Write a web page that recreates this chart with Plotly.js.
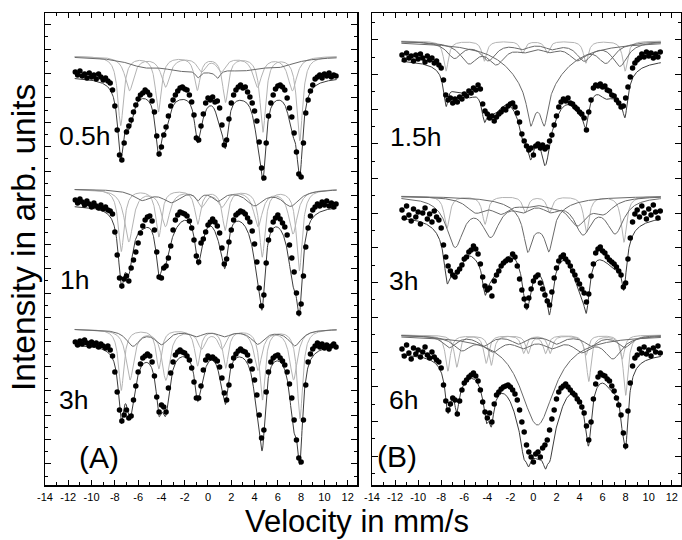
<!DOCTYPE html>
<html><head><meta charset="utf-8">
<script src="https://cdn.plot.ly/plotly-3.0.1.min.js"></script>
<style>html,body{margin:0;padding:0;background:#fff}#chart{width:682px;height:540px}</style>
</head><body><div id="chart"></div>
<script>
// ---- measured channels (mm/s) ----
const velocity = [
-11.4,-11.2,-11.0,-10.8,-10.6,-10.4,-10.2,-10.0,-9.8,-9.6,-9.4,-9.2,-9.0,-8.8,-8.6,
-8.4,-8.2,-8.0,-7.8,-7.6,-7.4,-7.2,-7.0,-6.8,-6.6,-6.4,-6.2,-6.0,-5.8,-5.6,
-5.4,-5.2,-5.0,-4.8,-4.6,-4.4,-4.2,-4.0,-3.8,-3.6,-3.4,-3.2,-3.0,-2.8,-2.6,
-2.4,-2.2,-2.0,-1.8,-1.6,-1.4,-1.2,-1.0,-0.8,-0.6,-0.4,-0.2,0.0,0.2,0.4,
0.6,0.8,1.0,1.2,1.4,1.6,1.8,2.0,2.2,2.4,2.6,2.8,3.0,3.2,3.4,
3.6,3.8,4.0,4.2,4.4,4.6,4.8,5.0,5.2,5.4,5.6,5.8,6.0,6.2,6.4,
6.6,6.8,7.0,7.2,7.4,7.6,7.8,8.0,8.2,8.4,8.6,8.8,9.0,9.2,9.4,
9.6,9.8,10.0,10.2,10.4,10.6,10.8,11.0];

// ---- relative transmission (%) ----
const A_05h = [
100.4,100.1,100.5,100.0,100.2,99.8,100.3,99.9,100.1,99.7,100.2,99.9,99.6,99.8,99.5,
99.3,98.6,97.0,94.6,92.1,91.6,93.3,94.4,95.0,95.6,96.4,97.1,97.7,98.1,98.3,
98.6,98.4,98.1,97.5,96.4,94.0,92.2,92.9,94.1,94.9,96.0,97.0,97.6,98.1,98.5,
98.8,98.9,98.7,98.6,98.1,97.4,96.1,93.8,93.6,95.0,96.2,97.3,97.8,97.6,97.9,
97.4,97.5,96.8,95.1,93.1,93.6,95.7,97.3,98.1,98.6,98.9,99.1,98.8,98.9,98.4,
97.9,97.3,96.5,95.5,93.4,90.8,89.8,93.3,96.0,97.3,98.1,98.7,99.0,99.1,98.9,
98.6,97.8,96.8,95.9,94.3,92.4,90.2,89.9,93.3,96.3,97.6,98.5,99.1,99.7,99.9,
100.1,99.8,100.2,100.0,100.3,99.9,100.1,100.0];
const A_1h = [
100.5,100.2,100.6,100.3,100.0,100.4,100.1,99.8,100.2,99.9,99.7,100.0,99.6,99.8,99.5,
99.4,99.1,97.3,95.0,92.7,91.9,92.6,92.9,92.4,93.7,94.5,95.3,96.2,97.2,97.9,
98.5,98.8,98.9,98.4,97.5,95.3,92.8,92.7,93.7,93.9,94.7,95.9,97.5,98.5,99.0,
99.3,99.2,99.1,98.9,98.4,97.7,96.5,94.9,94.3,96.2,96.6,97.3,98.0,98.3,98.6,
98.3,97.9,97.2,95.7,94.1,94.6,96.3,97.5,98.5,99.0,99.2,99.4,99.3,99.1,98.7,
98.3,97.4,96.1,94.3,91.7,89.9,91.0,94.2,96.5,97.5,98.3,98.7,99.0,98.6,98.2,
97.8,97.0,96.0,94.7,93.3,91.2,89.2,90.1,92.9,95.8,97.7,98.9,99.5,99.8,100.1,
99.9,100.3,100.0,100.4,99.9,100.2,99.8,100.1];
const A_3h = [
100.2,99.9,100.3,100.0,100.4,100.1,99.8,100.2,99.9,100.1,99.7,100.0,99.8,99.6,99.8,
99.4,98.8,97.2,95.2,93.4,92.3,92.9,93.4,92.6,92.8,94.4,95.8,97.2,98.0,98.6,
98.8,99.0,98.8,98.2,96.8,94.7,93.2,93.9,93.7,93.2,95.6,97.1,98.2,98.9,99.2,
99.4,99.2,99.1,98.8,98.4,97.6,96.2,94.6,94.6,95.8,97.4,98.4,98.8,98.6,98.7,
98.5,98.3,97.7,96.6,95.1,94.4,95.9,97.8,98.6,99.0,99.3,99.5,99.3,99.2,98.9,
98.3,97.5,96.4,94.9,92.9,90.6,91.4,95.2,97.2,98.2,98.6,98.8,98.9,98.6,98.3,
97.9,97.2,96.0,94.6,92.4,90.4,88.6,88.2,92.4,95.9,98.2,99.0,99.5,99.8,100.1,
99.7,100.0,99.6,99.9,99.5,99.8,100.0,99.7];
const B_15h = [
100.2,99.7,100.4,99.9,100.1,99.6,100.2,99.8,100.3,99.9,99.5,100.1,99.7,99.9,99.4,
99.6,99.2,98.9,97.7,96.2,95.7,95.9,95.4,95.8,95.5,96.0,95.8,96.3,96.1,96.6,
96.4,96.9,96.7,97.2,96.8,95.3,94.6,94.3,93.9,94.1,93.6,94.0,94.3,94.5,94.8,
94.7,95.1,95.3,95.4,95.0,94.4,93.5,92.3,91.6,91.1,90.7,90.9,90.2,91.1,91.3,
90.9,91.2,90.8,91.0,91.6,92.2,93.2,94.1,95.0,95.5,95.8,95.6,95.9,95.4,95.3,
95.0,94.8,94.5,94.3,93.9,92.7,94.5,95.7,96.9,97.2,97.1,97.3,97.0,97.1,96.7,
96.6,96.2,96.1,95.7,95.4,95.0,95.1,95.9,97.0,98.0,98.9,99.4,99.7,99.9,100.3,
100.0,100.5,100.1,100.4,99.9,100.3,100.0,100.5];
const B_3h = [
100.4,99.6,100.8,99.9,99.3,100.5,99.7,100.2,99.0,100.1,100.6,99.5,100.0,99.2,100.3,
99.7,99.4,98.6,96.9,95.7,94.8,94.3,93.9,93.7,94.2,94.5,94.9,95.5,95.7,96.2,
96.4,96.8,96.5,96.0,95.0,93.7,92.8,92.4,92.6,91.8,93.3,93.9,94.3,94.8,95.1,
95.3,95.5,95.4,96.0,95.7,94.8,93.5,92.4,91.5,90.8,91.6,92.5,93.3,93.7,93.9,
93.1,92.5,91.9,91.3,90.9,92.2,93.6,94.6,95.3,95.7,95.9,95.5,95.2,94.8,94.3,
93.9,93.4,93.0,92.5,92.1,91.2,92.0,93.8,95.0,96.1,96.5,96.7,96.3,96.1,95.7,
95.4,95.2,95.0,94.7,94.3,93.9,92.7,93.1,95.5,97.6,99.2,100.0,100.4,99.7,100.8,
100.1,99.5,100.5,99.9,100.9,100.2,99.6,100.3];
const B_6h = [
100.2,99.5,100.6,99.8,99.2,100.3,99.7,100.1,99.4,99.9,100.4,99.6,99.3,99.9,99.4,
99.1,98.9,98.3,96.6,95.0,94.1,94.7,95.3,95.1,93.7,95.0,96.1,96.8,97.1,97.4,
97.6,97.8,97.5,97.0,96.1,94.9,93.9,93.3,93.8,92.9,94.7,95.6,95.9,96.2,96.4,
96.5,96.6,96.4,96.1,95.7,95.1,94.1,92.9,91.9,90.6,89.9,89.4,88.9,89.7,89.9,
89.4,90.3,90.6,91.1,92.1,93.2,94.1,95.2,95.9,96.3,96.5,96.7,96.4,96.1,95.8,
95.6,95.2,94.9,94.4,93.8,92.5,91.1,92.9,95.2,96.7,97.4,97.8,97.6,97.5,97.2,
97.0,96.5,96.0,95.3,94.6,93.6,91.8,90.5,94.0,96.8,98.5,99.3,99.6,100.2,99.8,
100.4,99.7,100.1,99.5,100.3,99.9,100.5,99.8];

// ---- fitted sub-spectra: line positions (mm/s), half widths (mm/s), depths (%) ----
const A05_S = {pos:[-7.50,-4.26,-0.92,1.50,4.72,7.88], hw:[0.3,0.3,0.3,0.3,0.3,0.3], depth:[6.9,5.5,3.3,4.5,7.5,8.4]};
const A05_B = {pos:[-6.75,-3.65,-0.55,1.15,4.25,7.25], hw:[0.45,0.45,0.45,0.45,0.45,0.45], depth:[3.4,3.0,1.4,1.4,3.0,3.4]};
const A05_C = {pos:[-5.5,-2.5,0.2,3.0,6.0,-0.87,0.84], hw:[1.8,1.8,1.8,1.8,1.8,0.25,0.25], depth:[0.8,0.9,0.9,0.9,0.8,0.7,0.7]};

const A1_S = {pos:[-7.45,-4.22,-0.88,1.47,4.66,7.85], hw:[0.3,0.3,0.3,0.3,0.3,0.3], depth:[6.2,4.7,3.4,4.0,6.7,8.1]};
const A1_B = {pos:[-6.8,-3.65,-0.55,1.2,4.3,7.3], hw:[0.45,0.45,0.45,0.45,0.45,0.45], depth:[5.2,3.6,1.6,1.6,3.6,4.4]};
const A1_C = {pos:[-5.7,-3.15,-0.85,0.85,4.0,7.1], hw:[0.9,0.9,0.3,0.6,0.9,0.9], depth:[1.0,1.2,0.8,1.0,1.5,1.6]};

const A3_S = {pos:[-7.45,-4.22,-0.9,1.52,4.68,7.9], hw:[0.28,0.28,0.28,0.28,0.28,0.28], depth:[6.1,3.9,3.6,3.8,7.0,8.9]};
const A3_B = {pos:[-6.7,-3.62,-0.55,1.2,4.3,7.35], hw:[0.4,0.4,0.4,0.4,0.4,0.4], depth:[5.0,5.0,1.8,1.8,4.0,5.0]};
const A3_C = {pos:[-6.45,-4.0,-1.0,1.4,4.27,7.46], hw:[0.7,0.7,0.7,0.7,0.7,0.7], depth:[1.6,1.4,0.6,0.6,1.4,1.6]};

const B15_L  = {pos:[-7.58,-4.26,-0.95,1.2,4.55,7.95], hw:[0.25,0.25,0.25,0.25,0.25,0.25], depth:[3.0,2.0,1.2,1.2,2.2,3.0]};
const B15_D1 = {pos:[-6.85,-3.9,-1.0,1.6,4.4,7.5], hw:[0.8,0.8,0.8,0.8,0.8,0.8], depth:[1.6,1.8,0.6,0.6,1.8,2.4]};
const B15_D2 = {pos:[-5.6,-3.2,-0.8,1.4,3.8,6.3], hw:[0.9,0.9,0.9,0.9,0.9,0.9], depth:[2.0,2.0,0.7,0.7,1.6,2.0]};
const B15_C  = {pos:[-0.25,0.95,0.35], hw:[0.35,0.35,2.4], depth:[3.0,3.0,5.6]};

const B3_L  = {pos:[-7.5,-4.2,-0.7,1.4,4.6,7.85], hw:[0.28,0.28,0.28,0.28,0.28,0.28], depth:[3.2,2.8,1.6,1.6,3.6,4.6]};
const B3_D1 = {pos:[-6.8,-3.7,-0.9,1.5,4.3,7.1], hw:[0.9,0.9,0.9,0.9,0.9,0.9], depth:[4.8,3.6,1.0,1.0,3.4,3.4]};
const B3_D2 = {pos:[-5.0,-2.8,-0.6,1.6,3.8,6.1], hw:[1.0,1.0,1.0,1.0,1.0,1.0], depth:[1.4,1.4,0.6,0.6,2.6,1.4]};
const B3_C  = {pos:[-0.5,1.35,0.4], hw:[0.4,0.4,1.8], depth:[3.4,3.4,2.6]};

const B6_L1 = {pos:[-7.42,-4.1,-0.85,1.45,4.8,8.0], hw:[0.25,0.25,0.25,0.25,0.25,0.25], depth:[3.6,2.8,1.8,1.8,4.6,6.0]};
const B6_L2 = {pos:[-6.65,-3.65,-0.45,1.05,4.55,7.7], hw:[0.25,0.25,0.25,0.25,0.25,0.25], depth:[3.2,3.0,1.8,1.8,2.0,2.4]};
const B6_D1 = {pos:[-6.2,-3.5,-0.9,1.6,4.2,6.9], hw:[0.9,0.9,0.9,0.9,0.9,0.9], depth:[1.4,1.4,1.0,1.0,1.4,2.2]};
const B6_D2 = {pos:[-7.3,-4.3,-1.3,2.0,5.0,7.9], hw:[0.7,0.7,0.7,0.7,0.7,0.7], depth:[1.2,1.0,0.8,0.8,1.0,1.2]};
const B6_C  = {pos:[0.35], hw:[1.8], depth:[9.0]};

const labelsA = ['0.5h','1h','3h'];
const labelsB = ['1.5h','3h','6h'];
const xTicks = [-14,-12,-10,-8,-6,-4,-2,0,2,4,6,8,10,12];

// ---- drawing ----
const LIGHT = '#b3b3b3', DARK = '#6a6a6a', FIT = '#3c3c3c';
function absorption(v, comp){
  let s = 0;
  for (let i = 0; i < comp.pos.length; i++){
    const d = (v - comp.pos[i]) / comp.hw[i];
    s += comp.depth[i] / (1 + d*d);
  }
  return s;
}
const grid = [];
for (let i = 0; i <= 900; i++) grid.push(-11.45 + i*0.025);

const spectra = [
  {xa:'x',  ya:'y',  data:A_05h, base:40.9, sub:2.0, comps:[[A05_S,LIGHT],[A05_B,LIGHT],[A05_C,DARK]]},
  {xa:'x',  ya:'y',  data:A_1h,  base:28.0, sub:1.6, comps:[[A1_S,LIGHT],[A1_B,LIGHT],[A1_C,DARK]]},
  {xa:'x',  ya:'y',  data:A_3h,  base:14.1, sub:1.5, comps:[[A3_S,LIGHT],[A3_B,LIGHT],[A3_C,DARK]]},
  {xa:'x2', ya:'y2', data:B_15h, base:42.8, sub:1.6, comps:[[B15_L,LIGHT],[B15_D1,DARK],[B15_D2,DARK],[B15_C,DARK]]},
  {xa:'x2', ya:'y2', data:B_3h,  base:27.1, sub:1.8, comps:[[B3_L,LIGHT],[B3_D1,DARK],[B3_D2,DARK],[B3_C,DARK]]},
  {xa:'x2', ya:'y2', data:B_6h,  base:13.4, sub:1.6, comps:[[B6_L1,LIGHT],[B6_L2,LIGHT],[B6_D1,DARK],[B6_D2,DARK],[B6_C,DARK]]}
];

const traces = [];
spectra.forEach(sp => {
  sp.comps.forEach(([c, col]) => {
    traces.push({x:grid, y:grid.map(v => sp.base + sp.sub - absorption(v, c)), xaxis:sp.xa, yaxis:sp.ya,
      mode:'lines', line:{color:col, width:1}, hoverinfo:'skip'});
  });
  traces.push({x:grid, y:grid.map(v => sp.base - sp.comps.reduce((s,[c]) => s + absorption(v, c), 0)),
    xaxis:sp.xa, yaxis:sp.ya, mode:'lines', line:{color:FIT, width:1}, hoverinfo:'skip'});
  traces.push({x:velocity, y:sp.data.map(t => sp.base + (t - 100)), xaxis:sp.xa, yaxis:sp.ya,
    mode:'markers', marker:{color:'#000', size:5.5}, hoverinfo:'skip'});
});

const FONT = 'Arial, "Liberation Sans", sans-serif';
function xAxis(domain){
  return {domain:domain, range:[-14,12.8], tickmode:'array', tickvals:xTicks, ticktext:xTicks.map(String),
    ticks:'inside', ticklen:5, tickwidth:1, tickcolor:'#000', mirror:'allticks', showline:true,
    linecolor:'#000', linewidth:1.5, showgrid:false, zeroline:false,
    minor:{dtick:1, tick0:0, ticks:'inside', ticklen:3, tickcolor:'#000', tickwidth:1},
    tickfont:{family:FONT, size:11, color:'#000'}, ticklabelstandoff:1, fixedrange:true};
}
function yAxis(anchor, t0, dt){
  return {anchor:anchor, domain:[0,1], range:[0,47.2], showticklabels:false, ticks:'inside', ticklen:6,
    tickwidth:1, tickcolor:'#000', tick0:t0, dtick:dt, mirror:'allticks', showline:true, linecolor:'#000',
    linewidth:1.5, showgrid:false, zeroline:false,
    minor:{dtick:dt/2, tick0:t0, ticks:'inside', ticklen:3, tickcolor:'#000', tickwidth:1}, fixedrange:true};
}
const W = 636, H = 472;
function px(x){ return (x - 45) / W; }
function py(y){ return (485 - y) / H; }
function lab(text, x, y, size){
  return {text:text, xref:'paper', yref:'paper', x:px(x), y:py(y), xanchor:'left', yanchor:'middle',
    showarrow:false, font:{family:FONT, size:size, color:'#000'}};
}
const annotations = [
  lab(labelsA[0], 57, 136, 26.5), lab(labelsA[1], 58, 280, 26.5), lab(labelsA[2], 57, 400, 26.5), lab('(A)', 77, 457, 30),
  lab(labelsB[0], 388, 137, 26.5), lab(labelsB[1], 387, 281, 26.5), lab(labelsB[2], 387, 400, 26.5), lab('(B)', 375, 456, 30),
  {text:'Intensity in arb. units', xref:'paper', yref:'paper', x:px(24), y:py(238), xanchor:'center', yanchor:'middle',
    textangle:-90, showarrow:false, font:{family:FONT, size:33.5, color:'#000'}},
  {text:'Velocity in mm/s', xref:'paper', yref:'paper', x:px(357), y:py(521), xanchor:'center', yanchor:'middle',
    showarrow:false, font:{family:FONT, size:31, color:'#000'}}
];

const layout = {
  width:682, height:540, margin:{l:45, r:1, t:13, b:55}, paper_bgcolor:'#fff', plot_bgcolor:'#fff',
  showlegend:false,
  xaxis: xAxis([0, 312/W]), yaxis: yAxis('x', 2.11, 2.44),
  xaxis2: xAxis([(372-45)/W, 1]), yaxis2: yAxis('x2', 2.89, 3.47),
  annotations: annotations
};
layout.xaxis.anchor = 'y'; layout.xaxis2.anchor = 'y2';
Plotly.newPlot('chart', traces, layout, {displayModeBar:false, staticPlot:true});
</script></body></html>
